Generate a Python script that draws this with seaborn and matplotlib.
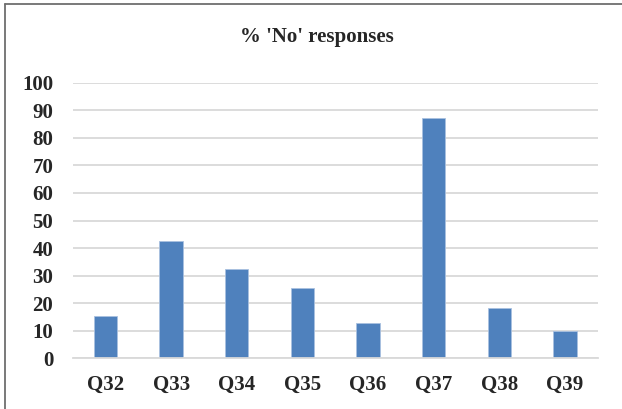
import matplotlib
matplotlib.use("Agg")
import matplotlib.pyplot as plt
from matplotlib.lines import Line2D
import seaborn as sns
import pandas as pd

# data
questions = ["Q32", "Q33", "Q34", "Q35", "Q36", "Q37", "Q38", "Q39"]
pct_no = [15.5, 42.7, 32.5, 25.5, 12.7, 87.1, 18.4, 9.9]
y_ticks = list(range(0, 101, 10))

df = pd.DataFrame({"question": questions, "pct": pct_no})

sns.set_style("white")
plt.rcParams["font.family"] = ["Liberation Serif", "DejaVu Serif"]
plt.rcParams["font.weight"] = "bold"

fig = plt.figure(figsize=(6.22, 4.09), dpi=100)
ax = fig.add_axes([0.1169, 0.1235, 0.844, 0.6747])

sns.barplot(data=df, x="question", y="pct", ax=ax, color="#4F81BD",
            saturation=1, width=0.355, edgecolor="#A9C1E0", linewidth=0.6)

ax.set_ylim(0, 100)
ax.set_xlim(-0.5, len(questions) - 0.5)
ax.set_yticks(y_ticks)
ax.yaxis.grid(True, color="#D9D9D9", linewidth=1.3)
ax.set_axisbelow(True)
for side in ["top", "right", "left"]:
    ax.spines[side].set_visible(False)
ax.spines["bottom"].set_color("#D9D9D9")
ax.spines["bottom"].set_linewidth(1.3)
ax.tick_params(axis="both", length=0, labelsize=15)
ax.tick_params(axis="y", pad=14)
ax.tick_params(axis="x", pad=12)
for lbl in ax.get_xticklabels() + ax.get_yticklabels():
    lbl.set_fontweight("bold")
ax.set_xlabel("")
ax.set_ylabel("")

fig.text(0.509, 0.91, "% 'No' responses", ha="center", va="center",
         fontsize=15, fontweight="bold")

# chart border (only top and left edges show in the reference crop)
fig.add_artist(Line2D([0.008, 0.008], [0, 0.99], transform=fig.transFigure,
                      color="#6E6E6E", linewidth=1.3))
fig.add_artist(Line2D([0.008, 1], [0.99, 0.99], transform=fig.transFigure,
                      color="#6E6E6E", linewidth=1.3))

fig.savefig("out.png", dpi=100)
